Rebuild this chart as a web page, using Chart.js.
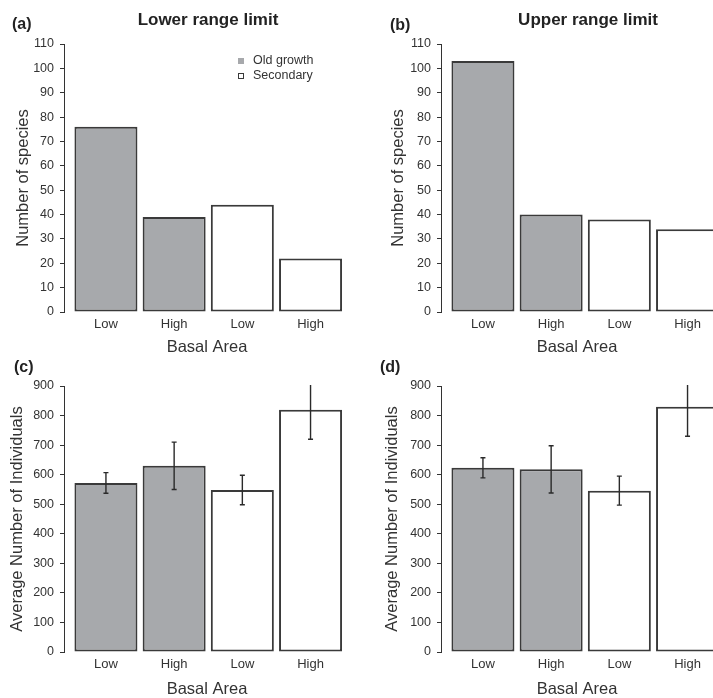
<!DOCTYPE html>
<html>
<head>
<meta charset="utf-8">
<script src="https://cdn.jsdelivr.net/npm/chart.js@4.4.1/dist/chart.umd.min.js"></script>
<style>
  html, body { margin: 0; padding: 0; background: #fff; }
  #wrap { position: relative; width: 713px; height: 698px; overflow: hidden; }
  canvas { position: absolute; }
</style>
</head>
<body>
<div id="wrap">
  <canvas id="chartA" width="357" height="356" style="left:0;top:0"></canvas>
  <canvas id="chartB" width="356" height="356" style="left:357px;top:0"></canvas>
  <canvas id="chartC" width="357" height="342" style="left:0;top:356px"></canvas>
  <canvas id="chartD" width="356" height="342" style="left:357px;top:356px"></canvas>
</div>
<script>
// ---- data ----
const categories = ['Low', 'High', 'Low', 'High'];
const forestTypes = ['Old growth', 'Secondary'];
const forestOfBar = [0, 0, 1, 1];

const lowerSpecies = [76, 39, 44, 22];
const upperSpecies = [103, 40, 38, 34];

const lowerIndividuals = [572, 630, 548, 820];
const lowerIndividualsSE = [35, 80, 50, 100];
const upperIndividuals = [623, 618, 546, 830];
const upperIndividualsSE = [34, 80, 49, 100];

const speciesTicks = [0, 10, 20, 30, 40, 50, 60, 70, 80, 90, 100, 110];
const individualTicks = [0, 100, 200, 300, 400, 500, 600, 700, 800, 900];

// ---- styling ----
const FONT = "'Liberation Sans', Arial, sans-serif";
const INK = '#333333';
const EDGE = '#3a3a3a';
const fills = ['#a7a9ac', '#ffffff'];
const UNIT = 68.2;      // px per bar slot
const X_START = -0.615; // gap between y axis and first bar

// panel letters and titles
const panelText = {
  id: 'panelText',
  afterDraw(chart, args, o) {
    const ctx = chart.ctx;
    ctx.save();
    ctx.fillStyle = '#222';
    ctx.textBaseline = 'middle';
    ctx.textAlign = 'left';
    ctx.font = `bold 16px ${FONT}`;
    ctx.fillText(o.letter, o.letterX, o.letterY);
    if (o.title) {
      ctx.font = `bold 17px ${FONT}`;
      ctx.textAlign = 'center';
      ctx.fillText(o.title, o.titleX, o.titleY);
    }
    ctx.restore();
  }
};

// small legend inside the plot (panel a only)
const groupLegend = {
  id: 'groupLegend',
  afterDraw(chart, args, o) {
    if (!o.show) return;
    const ctx = chart.ctx;
    ctx.save();
    ctx.font = `12.5px ${FONT}`;
    ctx.textBaseline = 'middle';
    ctx.textAlign = 'left';
    chart.data.datasets.forEach((ds, k) => {
      const y = o.y + k * 15;
      ctx.fillStyle = ds.backgroundColor;
      ctx.fillRect(o.x - 3, y - 3, 6, 6);
      if (ds.backgroundColor === '#ffffff') {
        ctx.strokeStyle = EDGE;
        ctx.lineWidth = 1;
        ctx.strokeRect(o.x - 2.5, y - 2.5, 5, 5);
      }
      ctx.fillStyle = INK;
      ctx.fillText(ds.label, o.x + 12, y);
    });
    ctx.restore();
  }
};

// +/- SE whiskers
const errorBars = {
  id: 'errorBars',
  afterDatasetsDraw(chart) {
    const ctx = chart.ctx, ys = chart.scales.y, a = chart.chartArea;
    ctx.save();
    ctx.beginPath();
    ctx.rect(a.left, a.top - 1, chart.width - a.left, a.bottom - a.top + 2);
    ctx.clip();
    ctx.strokeStyle = '#2a2a2a';
    ctx.lineWidth = 1.4;
    chart.data.datasets.forEach((ds, d) => {
      if (!ds.errors) return;
      chart.getDatasetMeta(d).data.forEach((bar, i) => {
        const v = ds.data[i].y, e = ds.errors[i];
        const top = ys.getPixelForValue(v + e);
        const bot = ys.getPixelForValue(v - e);
        ctx.beginPath();
        ctx.moveTo(bar.x, top); ctx.lineTo(bar.x, bot);
        ctx.moveTo(bar.x - 2.5, top); ctx.lineTo(bar.x + 2.5, top);
        ctx.moveTo(bar.x - 2.5, bot); ctx.lineTo(bar.x + 2.5, bot);
        ctx.stroke();
      });
    });
    ctx.restore();
  }
};

function makePanel(id, p) {
  const canvas = document.getElementById(id);
  const right = canvas.width - p.pad.right;
  const datasets = forestTypes.map((name, f) => {
    const idx = categories.map((c, i) => i).filter(i => forestOfBar[i] === f);
    return {
      label: name,
      data: idx.map(i => ({ x: i, y: p.values[i] })),
      errors: p.errors ? idx.map(i => p.errors[i]) : null,
      backgroundColor: fills[f],
      borderColor: EDGE,
      borderWidth: 2,
      borderSkipped: false,
      grouped: false,
      barPercentage: 0.924,
      categoryPercentage: 1
    };
  });

  new Chart(canvas, {
    type: 'bar',
    data: { datasets },
    options: {
      responsive: false,
      animation: false,
      layout: { padding: p.pad },
      plugins: {
        legend: { display: false },
        tooltip: { enabled: false },
        panelText: p.text,
        groupLegend: p.legend || { show: false }
      },
      scales: {
        x: {
          type: 'linear',
          offset: false,
          min: X_START,
          max: X_START + (right - p.axisX) / UNIT,
          afterBuildTicks: s => { s.ticks = categories.map((c, i) => ({ value: i })); },
          afterFit: s => { s.height = p.xHeight; },
          grid: { display: false, drawTicks: false },
          border: { display: false },
          ticks: {
            callback: v => categories[v],
            color: INK,
            font: { family: FONT, size: 13 },
            padding: 5,
            autoSkip: false,
            maxRotation: 0
          },
          title: {
            display: true,
            text: 'Basal Area',
            color: INK,
            font: { family: FONT, size: 16.5, lineHeight: 1 },
            padding: { top: 0, bottom: 0 }
          }
        },
        y: {
          min: 0,
          max: p.ticks[p.ticks.length - 1],
          afterBuildTicks: s => { s.ticks = p.ticks.map(v => ({ value: v })); },
          afterFit: s => { s.width = p.axisX; },
          grid: { drawOnChartArea: false, drawTicks: true, tickLength: 4, color: INK, lineWidth: 1 },
          border: { display: true, color: INK, width: 1 },
          ticks: { color: INK, font: { family: FONT, size: 12.5 }, padding: 6 },
          title: {
            display: true,
            text: p.yTitle,
            color: INK,
            font: { family: FONT, size: 16.5, lineHeight: 1 },
            padding: { top: p.yTitlePad, bottom: 0 }
          }
        }
      }
    },
    plugins: [errorBars, groupLegend, panelText]
  });
}

makePanel('chartA', {
  values: lowerSpecies, ticks: speciesTicks, yTitle: 'Number of species',
  pad: { top: 44, right: 7, bottom: 0, left: 0 }, axisX: 64, xHeight: 44, yTitlePad: 15.5,
  text: { letter: '(a)', letterX: 12, letterY: 25, title: 'Lower range limit', titleX: 208, titleY: 20 },
  legend: { show: true, x: 241, y: 61 }
});

makePanel('chartB', {
  values: upperSpecies, ticks: speciesTicks, yTitle: 'Number of species',
  pad: { top: 44, right: 0, bottom: 0, left: 0 }, axisX: 84, xHeight: 44, yTitlePad: 33.5,
  text: { letter: '(b)', letterX: 33, letterY: 26, title: 'Upper range limit', titleX: 231, titleY: 20 }
});

makePanel('chartC', {
  values: lowerIndividuals, errors: lowerIndividualsSE, ticks: individualTicks,
  yTitle: 'Average Number of Individuals',
  pad: { top: 30, right: 7, bottom: 0, left: 0 }, axisX: 64, xHeight: 46, yTitlePad: 9.25,
  text: { letter: '(c)', letterX: 14, letterY: 11.5 }
});

makePanel('chartD', {
  values: upperIndividuals, errors: upperIndividualsSE, ticks: individualTicks,
  yTitle: 'Average Number of Individuals',
  pad: { top: 30, right: 0, bottom: 0, left: 0 }, axisX: 84, xHeight: 46, yTitlePad: 26.75,
  text: { letter: '(d)', letterX: 23, letterY: 11.5 }
});
</script>
</body>
</html>
